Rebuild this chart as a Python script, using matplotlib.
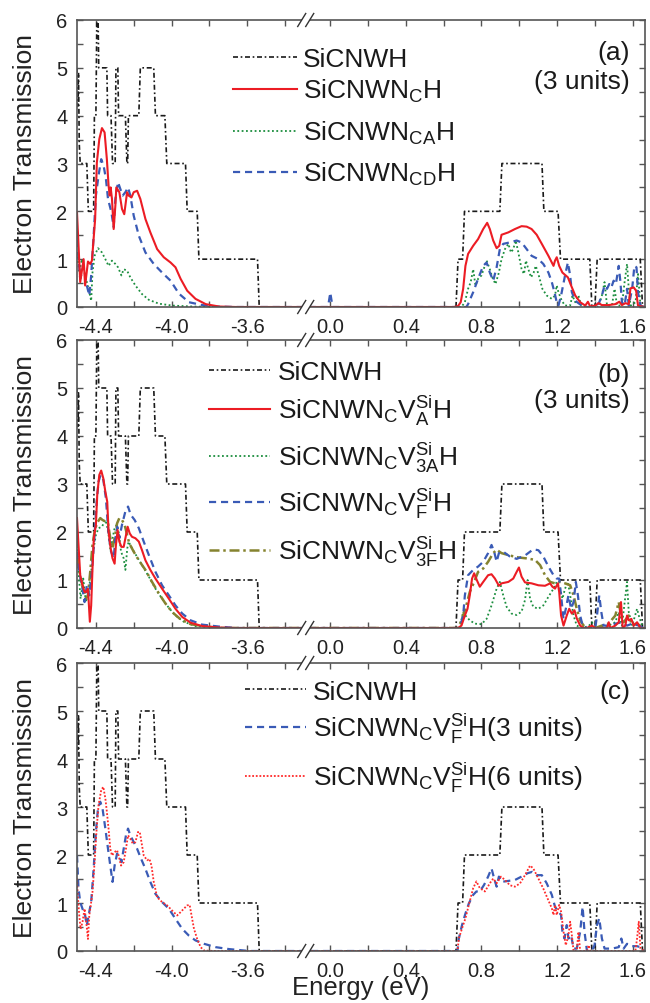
import numpy as np
import matplotlib
matplotlib.use('Agg')
import matplotlib.pyplot as plt
from matplotlib.patches import Rectangle

plt.rcParams['font.family'] = ['Liberation Sans', 'DejaVu Sans']
plt.rcParams['mathtext.fontset'] = 'custom'
plt.rcParams['mathtext.rm'] = 'Liberation Sans'
plt.rcParams['mathtext.it'] = 'Liberation Sans:italic'

# ---- data: (energy in eV, transmission) ----
# pristine wire, same curve in all three panels
pristine = np.array([
    (-4.5, 5.0), (-4.496, 4.2), (-4.492, 4.9), (-4.488, 3.4), (-4.483, 3.0), (-4.448, 3.0),
    (-4.440, 2.0), (-4.412, 2.0), (-4.408, 4.0), (-4.400, 4.0), (-4.394, 6.5), (-4.390, 6.5),
    (-4.385, 5.0), (-4.342, 5.0), (-4.338, 4.0), (-4.320, 4.0), (-4.312, 3.0), (-4.298, 3.0),
    (-4.294, 5.0), (-4.284, 5.0), (-4.280, 4.0), (-4.244, 4.0), (-4.236, 3.0), (-4.232, 3.0),
    (-4.228, 4.0), (-4.173, 4.0), (-4.165, 5.0), (-4.094, 5.0), (-4.085, 4.0), (-4.035, 4.0),
    (-4.025, 3.0), (-3.926, 3.0), (-3.917, 2.0), (-3.864, 2.0), (-3.855, 1.0), (-3.545, 1.0),
    (-3.536, 0.0), (-3.29, 0.0),
    (-0.13, 0.0), (0.665, 0.0), (0.676, 1.0), (0.700, 1.0), (0.710, 2.0), (0.897, 2.0),
    (0.908, 3.0), (1.120, 3.0), (1.130, 2.0), (1.205, 2.0), (1.218, 1.0), (1.373, 1.0),
    (1.384, 0.0), (1.400, 0.0), (1.412, 1.0), (1.640, 1.0), (1.652, 0.0), (1.67, 0.0)])

# panel (a)
nc_a = np.array([
    (-4.5, 1.98), (-4.483, 0.52), (-4.465, 1.00), (-4.457, 0.45), (-4.442, 0.95), (-4.430, 0.90),
    (-4.421, 0.97), (-4.404, 1.84), (-4.395, 3.02), (-4.382, 3.51), (-4.368, 3.74), (-4.354, 3.65),
    (-4.342, 3.09), (-4.333, 2.54), (-4.327, 2.33), (-4.322, 2.50), (-4.315, 2.26), (-4.306, 1.63),
    (-4.297, 2.12), (-4.292, 2.50), (-4.276, 2.40), (-4.262, 2.05), (-4.250, 1.94), (-4.235, 2.40),
    (-4.227, 2.33), (-4.212, 2.29), (-4.200, 2.40), (-4.182, 2.43), (-4.165, 2.26), (-4.138, 1.84),
    (-4.112, 1.56), (-4.076, 1.21), (-4.041, 1.04), (-4.005, 0.93), (-3.979, 0.83), (-3.952, 0.59),
    (-3.917, 0.34), (-3.873, 0.17), (-3.819, 0.06), (-3.749, 0.01), (-3.660, 0.0), (-3.29, 0.0),
    (-0.13, 0.0), (0.655, 0.0), (0.676, 0.02), (0.690, 0.10), (0.703, 0.38), (0.715, 0.86),
    (0.729, 1.11), (0.756, 1.28), (0.782, 1.42), (0.809, 1.63), (0.830, 1.76), (0.844, 1.63),
    (0.862, 1.39), (0.880, 1.23), (0.894, 1.28), (0.906, 1.51), (0.942, 1.56), (0.977, 1.63),
    (1.012, 1.69), (1.039, 1.68), (1.065, 1.63), (1.092, 1.51), (1.119, 1.32), (1.154, 1.07),
    (1.181, 0.86), (1.189, 0.97), (1.198, 1.04), (1.211, 0.86), (1.228, 0.72), (1.257, 0.62),
    (1.274, 0.45), (1.296, 0.24), (1.322, 0.10), (1.349, 0.03), (1.363, 0.11), (1.375, 0.01),
    (1.402, 0.03), (1.419, 0.08), (1.437, 0.04), (1.472, 0.04), (1.508, 0.06), (1.529, 0.11),
    (1.543, 0.04), (1.561, 0.08), (1.579, 0.06), (1.588, 0.39), (1.605, 0.41), (1.618, 0.34),
    (1.628, 0.03), (1.650, 0.01), (1.67, 0.0)])

nca_a = np.array([
    (-4.5, 1.14), (-4.488, 0.72), (-4.474, 1.00), (-4.460, 0.72), (-4.448, 0.52), (-4.435, 0.31),
    (-4.425, 0.13), (-4.418, 0.72), (-4.407, 1.07), (-4.389, 1.23), (-4.368, 1.14), (-4.350, 1.00),
    (-4.333, 0.86), (-4.315, 0.97), (-4.297, 0.90), (-4.283, 0.83), (-4.265, 0.66), (-4.253, 0.79),
    (-4.235, 0.76), (-4.218, 0.62), (-4.191, 0.45), (-4.156, 0.27), (-4.120, 0.15), (-4.067, 0.07),
    (-3.996, 0.03), (-3.890, 0.01), (-3.766, 0.0), (-3.29, 0.0),
    (-0.13, 0.0), (0.694, 0.0), (0.712, 0.10), (0.729, 0.38), (0.743, 0.52), (0.756, 0.79),
    (0.768, 0.45), (0.782, 0.59), (0.800, 0.66), (0.827, 0.97), (0.844, 0.79), (0.857, 0.62),
    (0.874, 0.48), (0.892, 0.72), (0.906, 1.00), (0.924, 1.21), (0.942, 1.32), (0.956, 1.14),
    (0.968, 1.21), (0.981, 1.39), (0.995, 1.14), (1.012, 0.79), (1.025, 0.69), (1.035, 0.97),
    (1.048, 0.79), (1.062, 0.62), (1.076, 0.72), (1.087, 0.86), (1.101, 0.69), (1.122, 0.38),
    (1.145, 0.24), (1.172, 0.17), (1.189, 0.24), (1.198, 0.45), (1.207, 0.31), (1.225, 0.13),
    (1.242, 0.03), (1.269, 0.03), (1.281, 0.24), (1.296, 0.10), (1.313, 0.24), (1.327, 0.03),
    (1.358, 0.0), (1.419, 0.0), (1.437, 0.24), (1.451, 0.52), (1.464, 0.03), (1.490, 0.03),
    (1.504, 0.38), (1.517, 0.03), (1.543, 0.03), (1.557, 0.52), (1.570, 0.90), (1.579, 0.38),
    (1.588, 0.03), (1.615, 0.10), (1.628, 0.69), (1.641, 0.03), (1.66, 0.0)])

ncd_a = np.array([
    (-4.5, 1.40), (-4.483, 0.59), (-4.465, 0.86), (-4.448, 0.45), (-4.435, 0.24), (-4.425, 0.66),
    (-4.412, 1.49), (-4.400, 2.33), (-4.386, 2.75), (-4.372, 3.09), (-4.359, 2.95), (-4.347, 2.68),
    (-4.336, 2.26), (-4.318, 1.98), (-4.306, 1.67), (-4.297, 2.26), (-4.283, 2.61), (-4.271, 2.47),
    (-4.258, 2.33), (-4.244, 2.40), (-4.230, 2.50), (-4.218, 2.33), (-4.200, 1.91), (-4.173, 1.49),
    (-4.138, 1.14), (-4.094, 0.90), (-4.050, 0.72), (-4.005, 0.55), (-3.961, 0.28), (-3.908, 0.10),
    (-3.837, 0.04), (-3.766, 0.01), (-3.660, 0.0), (-3.29, 0.0),
    (-0.13, 0.0), (-0.012, 0.0), (0.0, 0.30), (0.012, 0.0), (0.72, 0.0), (0.729, 0.06),
    (0.756, 0.31), (0.782, 0.59), (0.809, 0.86), (0.827, 0.93), (0.844, 0.72), (0.862, 0.55),
    (0.880, 0.83), (0.897, 1.21), (0.915, 1.32), (0.950, 1.35), (0.986, 1.39), (1.012, 1.35),
    (1.039, 1.21), (1.065, 1.07), (1.101, 1.00), (1.127, 0.90), (1.154, 0.72), (1.172, 0.52),
    (1.186, 0.31), (1.198, 0.10), (1.207, 0.03), (1.221, 0.24), (1.242, 0.66), (1.257, 0.93),
    (1.269, 0.66), (1.278, 0.31), (1.296, 0.13), (1.313, 0.08), (1.331, 0.03), (1.358, 0.0),
    (1.402, 0.0), (1.423, 0.10), (1.437, 0.24), (1.451, 0.45), (1.464, 0.38), (1.476, 0.48),
    (1.487, 0.41), (1.499, 0.55), (1.511, 0.48), (1.526, 0.86), (1.535, 0.52), (1.543, 0.10),
    (1.557, 0.03), (1.570, 0.38), (1.579, 0.03), (1.597, 0.38), (1.609, 0.86), (1.620, 0.83),
    (1.628, 0.31), (1.641, 0.03), (1.66, 0.0)])

# panel (b)
va_b = np.array([
    (-4.5, 2.29), (-4.492, 1.73), (-4.483, 1.10), (-4.471, 0.89), (-4.460, 0.75), (-4.453, 0.75),
    (-4.442, 0.82), (-4.432, 0.13), (-4.425, 0.47), (-4.418, 1.24), (-4.411, 1.87), (-4.400, 2.15),
    (-4.393, 2.77), (-4.382, 3.19), (-4.372, 3.28), (-4.361, 3.12), (-4.350, 2.84), (-4.340, 2.63),
    (-4.333, 2.01), (-4.322, 1.66), (-4.312, 1.45), (-4.301, 1.34), (-4.294, 1.73), (-4.285, 2.04),
    (-4.276, 1.80), (-4.265, 1.69), (-4.253, 1.69), (-4.244, 1.87), (-4.232, 2.11), (-4.221, 1.97),
    (-4.209, 1.90), (-4.191, 1.87), (-4.173, 1.80), (-4.156, 1.62), (-4.138, 1.41), (-4.112, 1.21),
    (-4.085, 1.03), (-4.050, 0.82), (-4.014, 0.61), (-3.979, 0.40), (-3.943, 0.23), (-3.899, 0.11),
    (-3.837, 0.04), (-3.749, 0.01), (-3.660, 0.0), (-3.29, 0.0),
    (-0.13, 0.0), (0.676, 0.0), (0.694, 0.05), (0.712, 0.26), (0.726, 0.40), (0.738, 0.68),
    (0.750, 1.03), (0.761, 1.14), (0.775, 1.00), (0.791, 0.86), (0.809, 0.96), (0.835, 1.10),
    (0.853, 1.12), (0.871, 1.03), (0.892, 0.88), (0.906, 0.93), (0.942, 0.96), (0.968, 1.03),
    (0.986, 1.17), (0.998, 1.26), (1.012, 1.07), (1.030, 0.95), (1.065, 0.93), (1.101, 0.89),
    (1.136, 0.88), (1.163, 0.93), (1.175, 0.86), (1.189, 0.82), (1.204, 0.93), (1.211, 0.75),
    (1.221, 0.26), (1.234, 0.05), (1.251, 0.26), (1.264, 0.40), (1.278, 0.30), (1.292, 0.37),
    (1.304, 0.20), (1.322, 0.05), (1.340, 0.0), (1.358, 0.0), (1.384, 0.05), (1.402, 0.0),
    (1.464, 0.0), (1.473, 0.12), (1.482, 0.0), (1.508, 0.05), (1.526, 0.12), (1.538, 0.54),
    (1.547, 0.0), (1.561, 0.05), (1.570, 0.26), (1.579, 0.16), (1.593, 0.19), (1.605, 0.05),
    (1.623, 0.12), (1.641, 0.0), (1.66, 0.0)])

v3a_b = np.array([
    (-4.5, 1.73), (-4.492, 1.17), (-4.481, 0.61), (-4.467, 1.03), (-4.453, 0.54), (-4.439, 0.75),
    (-4.425, 1.17), (-4.412, 1.66), (-4.400, 1.94), (-4.386, 2.08), (-4.368, 2.11), (-4.350, 2.25),
    (-4.342, 2.15), (-4.333, 1.94), (-4.322, 1.59), (-4.312, 1.87), (-4.301, 2.08), (-4.290, 2.15),
    (-4.280, 2.01), (-4.267, 1.59), (-4.253, 1.45), (-4.244, 1.21), (-4.234, 1.66), (-4.227, 1.80),
    (-4.209, 1.66), (-4.182, 1.48), (-4.156, 1.31), (-4.120, 1.07), (-4.085, 0.82), (-4.050, 0.61),
    (-4.014, 0.42), (-3.979, 0.26), (-3.935, 0.13), (-3.873, 0.04), (-3.766, 0.01), (-3.660, 0.0),
    (-3.29, 0.0),
    (-0.13, 0.0), (0.685, 0.0), (0.703, 0.34), (0.715, 0.26), (0.738, 0.16), (0.765, 0.09),
    (0.800, 0.08), (0.827, 0.19), (0.853, 0.47), (0.880, 0.82), (0.897, 0.96), (0.915, 0.68),
    (0.933, 0.44), (0.959, 0.30), (0.986, 0.27), (1.012, 0.34), (1.030, 0.58), (1.044, 1.00),
    (1.057, 0.61), (1.074, 0.44), (1.101, 0.40), (1.127, 0.47), (1.154, 0.65), (1.181, 0.82),
    (1.198, 0.96), (1.216, 0.82), (1.228, 0.61), (1.242, 0.82), (1.257, 0.96), (1.269, 0.68),
    (1.287, 0.26), (1.304, 0.05), (1.331, 0.0), (1.367, 0.04), (1.384, 0.12), (1.402, 0.0),
    (1.437, 0.02), (1.472, 0.05), (1.508, 0.12), (1.526, 0.33), (1.543, 0.05), (1.570, 0.96),
    (1.579, 0.33), (1.597, 0.05), (1.623, 0.40), (1.632, 0.26), (1.650, 0.05), (1.66, 0.0)])

vf_b = np.array([
    (-4.5, 1.59), (-4.488, 1.17), (-4.474, 0.89), (-4.460, 0.54), (-4.448, 0.89), (-4.435, 0.68),
    (-4.421, 1.17), (-4.407, 1.94), (-4.396, 2.63), (-4.386, 3.05), (-4.375, 3.19), (-4.361, 3.09),
    (-4.347, 2.70), (-4.333, 1.94), (-4.319, 1.59), (-4.306, 1.45), (-4.297, 1.87), (-4.287, 2.11),
    (-4.276, 1.87), (-4.262, 2.15), (-4.244, 2.43), (-4.230, 2.53), (-4.216, 2.36), (-4.195, 2.25),
    (-4.173, 2.08), (-4.147, 1.80), (-4.120, 1.52), (-4.085, 1.17), (-4.050, 0.89), (-4.014, 0.68),
    (-3.979, 0.47), (-3.943, 0.30), (-3.899, 0.16), (-3.837, 0.07), (-3.749, 0.03), (-3.660, 0.0),
    (-3.29, 0.0),
    (-0.13, 0.0), (0.685, 0.0), (0.703, 0.26), (0.712, 0.68), (0.729, 1.10), (0.756, 1.21),
    (0.782, 1.28), (0.809, 1.38), (0.835, 1.56), (0.853, 1.73), (0.867, 1.59), (0.880, 1.38),
    (0.892, 1.56), (0.915, 1.59), (0.950, 1.49), (0.986, 1.44), (1.030, 1.51), (1.074, 1.64),
    (1.101, 1.62), (1.127, 1.49), (1.154, 1.28), (1.181, 1.10), (1.198, 1.03), (1.211, 1.03),
    (1.221, 0.68), (1.234, 0.19), (1.246, 0.40), (1.260, 0.68), (1.274, 0.40), (1.287, 0.54),
    (1.299, 0.96), (1.310, 0.68), (1.322, 0.26), (1.335, 0.05), (1.358, 0.0), (1.402, 0.0),
    (1.411, 0.26), (1.423, 0.68), (1.434, 0.33), (1.446, 0.05), (1.472, 0.05), (1.508, 0.09),
    (1.543, 0.12), (1.570, 0.05), (1.597, 0.09), (1.632, 0.05), (1.66, 0.0)])

v3f_b = np.array([
    (-4.5, 1.87), (-4.492, 1.31), (-4.481, 1.03), (-4.465, 0.82), (-4.453, 0.61), (-4.442, 0.68),
    (-4.430, 1.17), (-4.418, 1.73), (-4.407, 2.01), (-4.395, 2.18), (-4.377, 2.29), (-4.365, 2.25),
    (-4.350, 2.22), (-4.336, 2.18), (-4.324, 1.87), (-4.312, 1.66), (-4.301, 1.87), (-4.288, 2.18),
    (-4.276, 2.29), (-4.262, 2.25), (-4.248, 2.15), (-4.235, 1.94), (-4.223, 1.76), (-4.200, 1.59),
    (-4.173, 1.41), (-4.138, 1.21), (-4.103, 0.96), (-4.067, 0.72), (-4.032, 0.51), (-3.996, 0.33),
    (-3.952, 0.18), (-3.899, 0.08), (-3.819, 0.03), (-3.731, 0.0), (-3.29, 0.0),
    (-0.13, 0.0), (0.676, 0.0), (0.694, 0.16), (0.715, 0.40), (0.738, 0.75), (0.761, 0.96),
    (0.782, 1.17), (0.809, 1.24), (0.835, 1.38), (0.862, 1.56), (0.880, 1.63), (0.906, 1.56),
    (0.950, 1.51), (0.995, 1.47), (1.039, 1.45), (1.083, 1.42), (1.110, 1.31), (1.136, 1.10),
    (1.163, 0.96), (1.189, 0.93), (1.216, 0.96), (1.242, 0.93), (1.269, 0.89), (1.287, 0.68),
    (1.304, 0.40), (1.322, 0.16), (1.340, 0.05), (1.367, 0.0), (1.402, 0.0), (1.437, 0.05),
    (1.472, 0.09), (1.508, 0.26), (1.526, 0.54), (1.535, 0.33), (1.552, 0.12), (1.579, 0.26),
    (1.597, 0.05), (1.623, 0.09), (1.650, 0.02), (1.66, 0.0)])

# panel (c)
vf3_c = np.array([
    (-4.5, 1.99), (-4.492, 1.30), (-4.483, 1.02), (-4.471, 0.88), (-4.457, 0.74), (-4.448, 0.53),
    (-4.439, 0.74), (-4.425, 1.02), (-4.412, 1.71), (-4.400, 2.48), (-4.389, 2.97), (-4.377, 3.11),
    (-4.365, 2.97), (-4.350, 2.55), (-4.336, 2.13), (-4.324, 1.78), (-4.312, 1.44), (-4.301, 1.78),
    (-4.288, 2.03), (-4.276, 1.99), (-4.265, 1.85), (-4.253, 2.13), (-4.241, 2.41), (-4.230, 2.55),
    (-4.218, 2.41), (-4.200, 2.27), (-4.182, 2.13), (-4.165, 1.96), (-4.138, 1.71), (-4.112, 1.44),
    (-4.085, 1.19), (-4.050, 1.02), (-4.014, 0.88), (-3.979, 0.67), (-3.943, 0.46), (-3.908, 0.32),
    (-3.873, 0.22), (-3.828, 0.15), (-3.766, 0.08), (-3.696, 0.04), (-3.642, 0.02), (-3.589, 0.0),
    (-3.29, 0.0),
    (-0.13, 0.0), (0.673, 0.0), (0.680, 0.26), (0.697, 0.54), (0.715, 0.78), (0.733, 0.99),
    (0.756, 1.17), (0.773, 1.24), (0.791, 1.24), (0.814, 1.38), (0.835, 1.55), (0.853, 1.72),
    (0.867, 1.51), (0.880, 1.34), (0.892, 1.55), (0.906, 1.44), (0.942, 1.46), (0.977, 1.48),
    (1.012, 1.55), (1.044, 1.62), (1.069, 1.65), (1.092, 1.58), (1.119, 1.58), (1.145, 1.41),
    (1.172, 1.17), (1.189, 0.92), (1.207, 0.82), (1.221, 0.75), (1.228, 0.40), (1.239, 0.26),
    (1.251, 0.54), (1.260, 0.26), (1.274, 0.33), (1.287, 0.05), (1.304, 0.05), (1.322, 0.40),
    (1.335, 0.92), (1.345, 0.40), (1.358, 0.0), (1.384, 0.0), (1.398, 0.12), (1.411, 0.54),
    (1.423, 0.68), (1.437, 0.26), (1.451, 0.05), (1.490, 0.05), (1.526, 0.08), (1.540, 0.26),
    (1.552, 0.05), (1.570, 0.15), (1.597, 0.10), (1.623, 0.10), (1.641, 0.08), (1.66, 0.0)])

vf6_c = np.array([
    (-4.5, 1.51), (-4.496, 1.16), (-4.488, 0.74), (-4.481, 0.46), (-4.471, 0.60), (-4.460, 0.88),
    (-4.453, 0.67), (-4.442, 0.25), (-4.435, 0.74), (-4.425, 1.02), (-4.418, 1.23), (-4.407, 1.85),
    (-4.396, 2.55), (-4.386, 3.04), (-4.372, 3.35), (-4.361, 3.42), (-4.350, 3.18), (-4.342, 2.90),
    (-4.333, 2.55), (-4.324, 2.13), (-4.315, 1.99), (-4.301, 2.06), (-4.288, 2.10), (-4.280, 1.99),
    (-4.267, 1.78), (-4.253, 1.85), (-4.241, 2.13), (-4.230, 2.41), (-4.218, 2.34), (-4.205, 2.24),
    (-4.191, 2.27), (-4.177, 2.48), (-4.168, 2.48), (-4.159, 2.27), (-4.147, 1.99), (-4.129, 1.89),
    (-4.117, 1.92), (-4.106, 1.78), (-4.094, 1.44), (-4.076, 1.12), (-4.050, 1.02), (-4.023, 0.95),
    (-3.996, 0.84), (-3.970, 0.74), (-3.952, 0.81), (-3.935, 0.88), (-3.917, 0.95), (-3.904, 0.96),
    (-3.894, 0.74), (-3.881, 0.46), (-3.864, 0.25), (-3.846, 0.08), (-3.828, 0.01), (-3.766, 0.0),
    (-3.29, 0.0),
    (-0.13, 0.0), (0.673, 0.0), (0.680, 0.26), (0.697, 0.47), (0.715, 0.68), (0.733, 0.96),
    (0.756, 1.31), (0.773, 1.45), (0.791, 1.31), (0.818, 1.24), (0.844, 1.41), (0.862, 1.51),
    (0.880, 1.41), (0.903, 1.55), (0.924, 1.48), (0.950, 1.37), (0.977, 1.34), (1.004, 1.41),
    (1.030, 1.58), (1.057, 1.78), (1.074, 1.72), (1.101, 1.51), (1.127, 1.30), (1.150, 1.09),
    (1.172, 0.89), (1.181, 0.75), (1.189, 0.96), (1.198, 0.75), (1.211, 0.96), (1.221, 0.82),
    (1.234, 0.40), (1.246, 0.12), (1.260, 0.33), (1.269, 0.61), (1.278, 0.33), (1.287, 0.0),
    (1.304, 0.0), (1.313, 0.40), (1.322, 0.0), (1.358, 0.0), (1.367, 0.12), (1.375, 0.0),
    (1.614, 0.0), (1.623, 0.26), (1.632, 0.61), (1.641, 0.05), (1.66, 0.0)])

tick_e = [-4.4, -4.2, -4.0, -3.8, -3.6, -3.4, 0.0, 0.2, 0.4, 0.6, 0.8, 1.0, 1.2, 1.4, 1.6]
tick_lab = ['-4.4', '', '-4.0', '', '-3.6', '', '0.0', '', '0.4', '', '0.8', '', '1.2', '', '1.6']

# ---- broken energy axis: the E >= 0 block is shifted next to the E < -3.3 block ----
SHIFT = -3.16
BREAK_U = -3.29
XLIM = (-4.5, -1.495)


def to_u(e):
    e = np.asarray(e, dtype=float)
    return np.where(e > -2.0, e + SHIFT, e)


# line styles
s_pri = dict(color='#1a1a1a', lw=1.2, ls=(0, (3, 1.6, 1, 1.6)))
s_red = dict(color='#ec1c24', lw=1.5, ls='-')
s_green = dict(color='#1b8e3e', lw=1.3, ls=(0, (1, 1.4)))
s_blue = dict(color='#3a5bb6', lw=1.6, ls=(0, (3.2, 2.2)))
s_olive = dict(color='#85832f', lw=1.8, ls=(0, (4, 1.5, 1, 1.5)))
s_reddot = dict(color='#ff2a2a', lw=1.3, ls=(0, (1, 1)))

FS_LEG = 19

fig = plt.figure(figsize=(6.5, 10.04), dpi=100)
boxes = [(77, 21, 308), (77, 341, 629), (77, 664, 952)]
axes = []
for x0, ytop, ybot in boxes:
    ax = fig.add_axes([x0 / 650, 1 - ybot / 1004, 568 / 650, (ybot - ytop) / 1004])
    axes.append(ax)


def style_axis(ax):
    ax.set_xlim(*XLIM)
    ax.set_ylim(0, 6)
    ax.set_xticks(to_u(tick_e))
    ax.set_xticklabels(tick_lab)
    ax.set_yticks([0, 1, 2, 3, 4, 5, 6])
    ax.set_yticks(np.arange(0.5, 6, 1.0), minor=True)
    ax.tick_params(which='both', direction='in', top=True, right=True, length=4,
                   width=1.0, color='#555555', labelsize=14.5, pad=7, labelcolor='#222222')
    for sp in ax.spines.values():
        sp.set_color('#555555')
        sp.set_linewidth(1.2)
    ax.set_ylabel('Electron Transmission', fontsize=19, color='#222222')
    ax.yaxis.set_label_coords(-0.07, 0.5)
    # break marks "//" on top and bottom spines
    w, h = 568.0, float(ax.bbox.height)
    cx = (BREAK_U - XLIM[0]) / (XLIM[1] - XLIM[0])
    for yf in (0.0, 1.0):
        ax.add_patch(Rectangle((cx - 4 / w, yf - 2.5 / h), 8 / w, 5 / h, transform=ax.transAxes,
                               fc='white', ec='none', clip_on=False, zorder=10))
        for dx in (-4, 4):
            ax.plot([cx + (dx - 4) / w, cx + (dx + 4) / w], [yf - 6.5 / h, yf + 6.5 / h],
                    transform=ax.transAxes, color='#333333', lw=1.0, clip_on=False, zorder=11)


def draw(ax, pts, style):
    ax.plot(to_u(pts[:, 0]), pts[:, 1], **style)


def legend_rows(ax, x0, x1, xt, rows):
    for style, label, y in rows:
        ax.plot([x0, x1], [y, y], **style)
        ax.text(xt, y - 0.19, label, fontsize=FS_LEG, va='baseline', ha='left', color='#1a1a1a')


def panel_tag(ax, rows):
    for txt, y in rows:
        ax.text(-1.574, y, txt, fontsize=FS_LEG, ha='right', va='center', color='#1a1a1a')


for ax in axes:
    style_axis(ax)

# (a)
ax = axes[0]
draw(ax, pristine, s_pri)
draw(ax, nca_a, s_green)
draw(ax, ncd_a, s_blue)
draw(ax, nc_a, s_red)
legend_rows(ax, -3.675, -3.336, -3.304, [
    (s_pri, 'SiCNWH', 5.23),
    (s_red, r'SiCNW$\mathrm{N}_\mathrm{C}$H', 4.56),
    (s_green, r'SiCNW$\mathrm{N}_\mathrm{CA}$H', 3.68),
    (s_blue, r'SiCNW$\mathrm{N}_\mathrm{CD}$H', 2.82)])
panel_tag(ax, [('(a)', 5.33), ('(3 units)', 4.72)])

# (b)
ax = axes[1]
draw(ax, pristine, s_pri)
draw(ax, v3a_b, s_green)
draw(ax, v3f_b, s_olive)
draw(ax, vf_b, s_blue)
draw(ax, va_b, s_red)
legend_rows(ax, -3.802, -3.479, -3.437, [
    (s_pri, 'SiCNWH', 5.37),
    (s_red, r'SiCNW$\mathrm{N}_\mathrm{C}\mathrm{V}^\mathrm{Si}_\mathrm{A}$H', 4.57),
    (s_green, r'SiCNW$\mathrm{N}_\mathrm{C}\mathrm{V}^\mathrm{Si}_\mathrm{3A}$H', 3.59),
    (s_blue, r'SiCNW$\mathrm{N}_\mathrm{C}\mathrm{V}^\mathrm{Si}_\mathrm{F}$H', 2.63),
    (s_olive, r'SiCNW$\mathrm{N}_\mathrm{C}\mathrm{V}^\mathrm{Si}_\mathrm{3F}$H', 1.63)])
panel_tag(ax, [('(b)', 5.30), ('(3 units)', 4.74)])

# (c)
ax = axes[2]
draw(ax, pristine, s_pri)
draw(ax, vf3_c, s_blue)
draw(ax, vf6_c, s_reddot)
legend_rows(ax, -3.611, -3.288, -3.251, [
    (s_pri, 'SiCNWH', 5.45),
    (s_blue, r'SiCNW$\mathrm{N}_\mathrm{C}\mathrm{V}^\mathrm{Si}_\mathrm{F}$H(3 units)', 4.66),
    (s_reddot, r'SiCNW$\mathrm{N}_\mathrm{C}\mathrm{V}^\mathrm{Si}_\mathrm{F}$H(6 units)', 3.65)])
panel_tag(ax, [('(c)', 5.41)])
ax.set_xlabel('Energy (eV)', fontsize=18.5, color='#222222')
ax.xaxis.set_label_coords(0.5, -0.082)

fig.savefig('out.png', dpi=100)
